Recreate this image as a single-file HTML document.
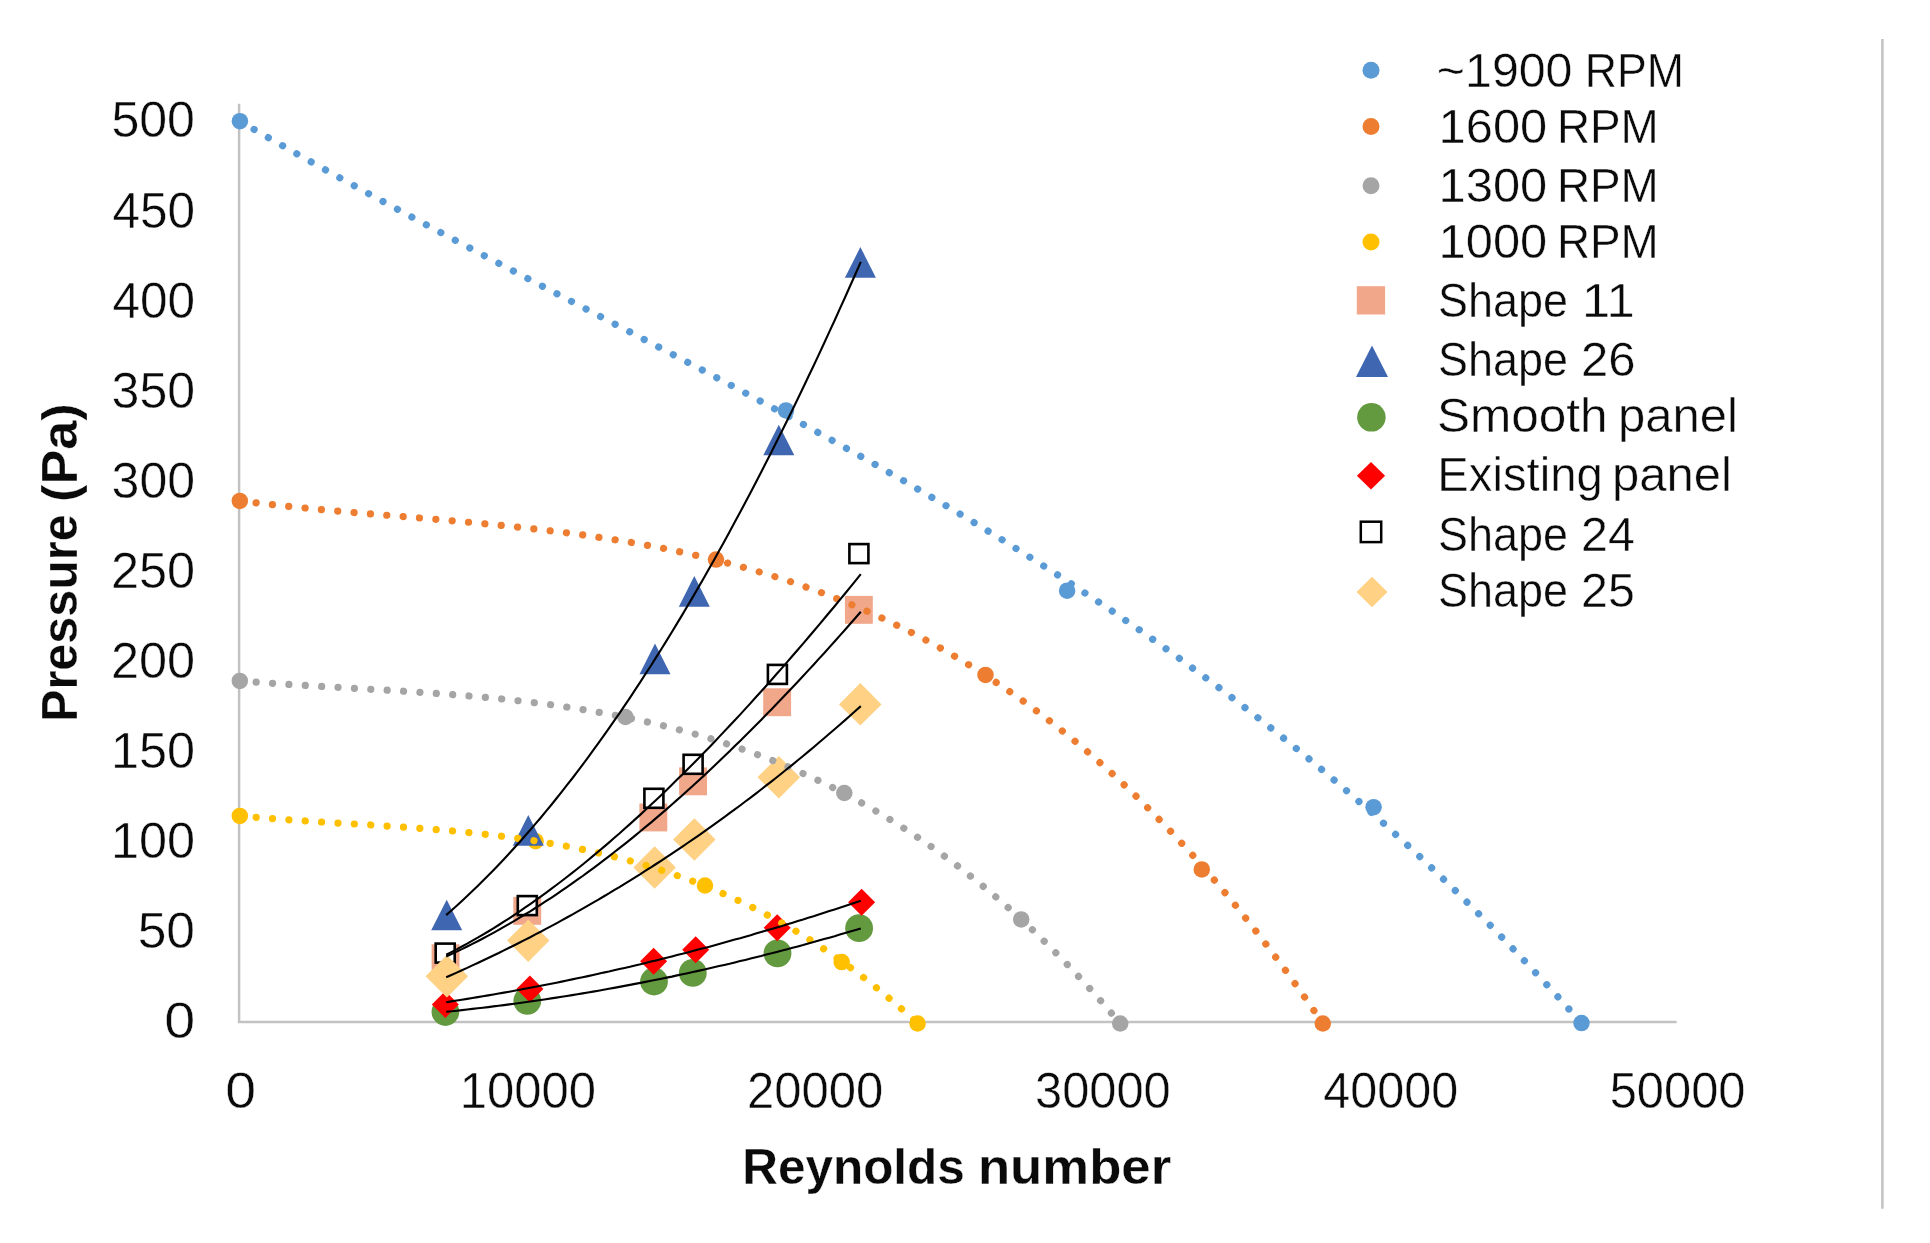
<!DOCTYPE html>
<html lang="en"><head><meta charset="utf-8"><title>Pressure vs Reynolds number</title>
<style>html,body{margin:0;padding:0;background:#fff}body{width:1930px;height:1243px;overflow:hidden}svg{display:block;filter:blur(0.5px)}text{font-family:"Liberation Sans",sans-serif;fill:#0a0a0a}text.t{stroke:#fff;stroke-width:0.45px}text.b{stroke:#fff;stroke-width:0.3px}</style></head><body>
<svg width="1930" height="1243" viewBox="0 0 1930 1243">
<rect width="1930" height="1243" fill="#fff"/>
<line x1="1882.4" y1="39" x2="1882.4" y2="1208.8" stroke="#C2C2C2" stroke-width="2.5"/>
<path d="M239.1,103.8 V1021.9 H1676.7" fill="none" stroke="#C2C2C2" stroke-width="2.5"/>
<text class="t" y="1038.4" font-size="50.0" font-weight="normal"><tspan x="164.2" textLength="30.9" lengthAdjust="spacingAndGlyphs">0</tspan></text>
<text class="t" y="948.3" font-size="50.0" font-weight="normal"><tspan x="137.7" textLength="57.3" lengthAdjust="spacingAndGlyphs">50</tspan></text>
<text class="t" y="858.2" font-size="50.0" font-weight="normal"><tspan x="110.9" textLength="84.1" lengthAdjust="spacingAndGlyphs">100</tspan></text>
<text class="t" y="768.1" font-size="50.0" font-weight="normal"><tspan x="110.9" textLength="84.1" lengthAdjust="spacingAndGlyphs">150</tspan></text>
<text class="t" y="678.0" font-size="50.0" font-weight="normal"><tspan x="110.9" textLength="84.2" lengthAdjust="spacingAndGlyphs">200</tspan></text>
<text class="t" y="587.9" font-size="50.0" font-weight="normal"><tspan x="110.9" textLength="84.2" lengthAdjust="spacingAndGlyphs">250</tspan></text>
<text class="t" y="497.8" font-size="50.0" font-weight="normal"><tspan x="111.6" textLength="83.4" lengthAdjust="spacingAndGlyphs">300</tspan></text>
<text class="t" y="407.7" font-size="50.0" font-weight="normal"><tspan x="111.6" textLength="83.4" lengthAdjust="spacingAndGlyphs">350</tspan></text>
<text class="t" y="317.6" font-size="50.0" font-weight="normal"><tspan x="112.4" textLength="82.6" lengthAdjust="spacingAndGlyphs">400</tspan></text>
<text class="t" y="227.5" font-size="50.0" font-weight="normal"><tspan x="112.4" textLength="82.6" lengthAdjust="spacingAndGlyphs">450</tspan></text>
<text class="t" y="137.4" font-size="50.0" font-weight="normal"><tspan x="111.4" textLength="83.6" lengthAdjust="spacingAndGlyphs">500</tspan></text>
<text class="t" y="1108.1" font-size="50.0" font-weight="normal"><tspan x="225.3" textLength="30.8" lengthAdjust="spacingAndGlyphs">0</tspan></text>
<text class="t" y="1108.1" font-size="50.0" font-weight="normal"><tspan x="459.7" textLength="136.2" lengthAdjust="spacingAndGlyphs">10000</tspan></text>
<text class="t" y="1108.1" font-size="50.0" font-weight="normal"><tspan x="747.0" textLength="136.3" lengthAdjust="spacingAndGlyphs">20000</tspan></text>
<text class="t" y="1108.1" font-size="50.0" font-weight="normal"><tspan x="1035.1" textLength="135.6" lengthAdjust="spacingAndGlyphs">30000</tspan></text>
<text class="t" y="1108.1" font-size="50.0" font-weight="normal"><tspan x="1323.3" textLength="134.8" lengthAdjust="spacingAndGlyphs">40000</tspan></text>
<text class="t" y="1108.1" font-size="50.0" font-weight="normal"><tspan x="1609.7" textLength="135.8" lengthAdjust="spacingAndGlyphs">50000</tspan></text>
<text class="b" y="1183.9" font-size="49.5" font-weight="bold"><tspan x="742.3" textLength="222.5" lengthAdjust="spacingAndGlyphs">Reynolds</tspan> <tspan x="977.9" textLength="193.3" lengthAdjust="spacingAndGlyphs">number</tspan></text>
<g transform="translate(76.9,0) rotate(-90)">
<text class="b" y="0.0" font-size="50.5" font-weight="bold"><tspan x="-721.9" textLength="207.6" lengthAdjust="spacingAndGlyphs">Pressure</tspan> <tspan x="-502.0" textLength="98.7" lengthAdjust="spacingAndGlyphs">(Pa)</tspan></text>
</g>
<circle cx="239.9" cy="121.2" r="8.25" fill="#5B9BD5"/>
<circle cx="786.0" cy="410.4" r="8.25" fill="#5B9BD5"/>
<circle cx="1067.1" cy="590.7" r="8.25" fill="#5B9BD5"/>
<circle cx="1373.6" cy="807.2" r="8.25" fill="#5B9BD5"/>
<circle cx="1581.5" cy="1023.1" r="8.25" fill="#5B9BD5"/>
<circle cx="239.8" cy="500.9" r="8.25" fill="#ED7D31"/>
<circle cx="716.0" cy="559.6" r="8.25" fill="#ED7D31"/>
<circle cx="985.5" cy="674.9" r="8.25" fill="#ED7D31"/>
<circle cx="1201.8" cy="869.4" r="8.25" fill="#ED7D31"/>
<circle cx="1322.8" cy="1023.5" r="8.25" fill="#ED7D31"/>
<circle cx="239.8" cy="680.9" r="8.25" fill="#A5A5A5"/>
<circle cx="625.4" cy="717.0" r="8.25" fill="#A5A5A5"/>
<circle cx="844.3" cy="793.0" r="8.25" fill="#A5A5A5"/>
<circle cx="1021.2" cy="919.4" r="8.25" fill="#A5A5A5"/>
<circle cx="1120.2" cy="1023.5" r="8.25" fill="#A5A5A5"/>
<circle cx="239.8" cy="815.9" r="8.25" fill="#FFC000"/>
<circle cx="535.6" cy="841.2" r="8.25" fill="#FFC000"/>
<circle cx="705.0" cy="885.5" r="8.25" fill="#FFC000"/>
<circle cx="841.7" cy="962.1" r="8.25" fill="#FFC000"/>
<circle cx="917.6" cy="1023.5" r="8.25" fill="#FFC000"/>
<rect x="431.6" y="944.3" width="27.9" height="27.9" fill="#F1A78A"/>
<rect x="513.3" y="896.9" width="27.9" height="27.9" fill="#F1A78A"/>
<rect x="639.4" y="803.5" width="27.9" height="27.9" fill="#F1A78A"/>
<rect x="679.1" y="767.4" width="27.9" height="27.9" fill="#F1A78A"/>
<rect x="763.2" y="688.3" width="27.9" height="27.9" fill="#F1A78A"/>
<rect x="844.9" y="595.9" width="27.9" height="27.9" fill="#F1A78A"/>
<polygon points="446.7,899.7 462.2,930.3 431.2,930.3" fill="#3F66B0"/>
<polygon points="528.3,815.1 543.8,845.7 512.8,845.7" fill="#3F66B0"/>
<polygon points="655.0,643.6 670.5,674.2 639.5,674.2" fill="#3F66B0"/>
<polygon points="694.3,576.1 709.8,606.7 678.8,606.7" fill="#3F66B0"/>
<polygon points="778.8,424.7 794.3,455.3 763.3,455.3" fill="#3F66B0"/>
<polygon points="860.4,247.1 875.9,277.7 844.9,277.7" fill="#3F66B0"/>
<circle cx="445.4" cy="1012.0" r="13.90" fill="#639A3F"/>
<circle cx="527.3" cy="1000.8" r="13.90" fill="#639A3F"/>
<circle cx="654.0" cy="981.5" r="13.90" fill="#639A3F"/>
<circle cx="692.8" cy="972.9" r="13.90" fill="#639A3F"/>
<circle cx="777.5" cy="953.3" r="13.90" fill="#639A3F"/>
<circle cx="859.1" cy="928.2" r="13.90" fill="#639A3F"/>
<polygon points="445.3,990.9 458.8,1004.4 445.3,1017.9 431.8,1004.4" fill="#FF0000"/>
<polygon points="529.9,975.6 543.4,989.1 529.9,1002.6 516.4,989.1" fill="#FF0000"/>
<polygon points="653.6,947.8 667.1,961.3 653.6,974.8 640.1,961.3" fill="#FF0000"/>
<polygon points="695.7,936.2 709.2,949.7 695.7,963.2 682.2,949.7" fill="#FF0000"/>
<polygon points="777.2,914.2 790.7,927.7 777.2,941.2 763.7,927.7" fill="#FF0000"/>
<polygon points="861.6,888.7 875.1,902.2 861.6,915.7 848.1,902.2" fill="#FF0000"/>
<rect x="435.7" y="943.6" width="19.0" height="19.0" fill="#fff" stroke="#000" stroke-width="2.6"/>
<rect x="517.8" y="896.1" width="19.0" height="19.0" fill="#fff" stroke="#000" stroke-width="2.6"/>
<rect x="644.4" y="788.8" width="19.0" height="19.0" fill="#fff" stroke="#000" stroke-width="2.6"/>
<rect x="683.6" y="754.8" width="19.0" height="19.0" fill="#fff" stroke="#000" stroke-width="2.6"/>
<rect x="767.9" y="664.9" width="19.0" height="19.0" fill="#fff" stroke="#000" stroke-width="2.6"/>
<rect x="849.4" y="544.1" width="19.0" height="19.0" fill="#fff" stroke="#000" stroke-width="2.6"/>
<polygon points="446.9,955.0 468.1,976.3 446.9,997.5 425.6,976.3" fill="#FFD184"/>
<polygon points="528.2,919.4 549.5,940.6 528.2,961.9 507.0,940.6" fill="#FFD184"/>
<polygon points="654.6,846.2 675.9,867.5 654.6,888.8 633.4,867.5" fill="#FFD184"/>
<polygon points="694.4,818.2 715.6,839.5 694.4,860.8 673.1,839.5" fill="#FFD184"/>
<polygon points="778.8,756.0 800.0,777.2 778.8,798.5 757.5,777.2" fill="#FFD184"/>
<polygon points="860.3,683.1 881.5,704.4 860.3,725.6 839.0,704.4" fill="#FFD184"/>
<path d="M239.9,121.2 L244.4,123.8 L248.9,126.4 L253.4,129.0 L257.8,131.6 L262.3,134.2 L266.8,136.8 L271.3,139.3 L275.8,141.9 L280.3,144.4 L284.8,147.0 L289.3,149.5 L293.7,152.1 L298.2,154.6 L302.7,157.1 L307.2,159.7 L311.7,162.2 L316.2,164.7 L320.7,167.2 L325.2,169.7 L329.6,172.2 L334.1,174.7 L338.6,177.2 L343.1,179.6 L347.6,182.1 L352.1,184.6 L356.6,187.0 L361.0,189.5 L365.5,192.0 L370.0,194.4 L374.5,196.9 L379.0,199.3 L383.5,201.8 L388.0,204.2 L392.5,206.6 L396.9,209.0 L401.4,211.5 L405.9,213.9 L410.4,216.3 L414.9,218.7 L419.4,221.1 L423.9,223.5 L428.4,225.9 L432.8,228.3 L437.3,230.7 L441.8,233.1 L446.3,235.5 L450.8,237.9 L455.3,240.3 L459.8,242.7 L464.2,245.1 L468.7,247.4 L473.2,249.8 L477.7,252.2 L482.2,254.6 L486.7,256.9 L491.2,259.3 L495.7,261.7 L500.1,264.0 L504.6,266.4 L509.1,268.7 L513.6,271.1 L518.1,273.5 L522.6,275.8 L527.1,278.2 L531.6,280.5 L536.0,282.9 L540.5,285.2 L545.0,287.6 L549.5,289.9 L554.0,292.3 L558.5,294.6 L563.0,297.0 L567.4,299.3 L571.9,301.6 L576.4,304.0 L580.9,306.3 L585.4,308.7 L589.9,311.0 L594.4,313.4 L598.9,315.7 L603.3,318.1 L607.8,320.4 L612.3,322.8 L616.8,325.1 L621.3,327.4 L625.8,329.8 L630.3,332.1 L634.8,334.5 L639.2,336.8 L643.7,339.2 L648.2,341.6 L652.7,343.9 L657.2,346.3 L661.7,348.6 L666.2,351.0 L670.6,353.3 L675.1,355.7 L679.6,358.1 L684.1,360.4 L688.6,362.8 L693.1,365.2 L697.6,367.6 L702.1,369.9 L706.5,372.3 L711.0,374.7 L715.5,377.1 L720.0,379.5 L724.5,381.9 L729.0,384.2 L733.5,386.6 L738.0,389.0 L742.4,391.4 L746.9,393.8 L751.4,396.3 L755.9,398.7 L760.4,401.1 L764.9,403.5 L769.4,405.9 L773.8,408.4 L778.3,410.8 L782.8,413.2 L787.3,415.7 L791.8,418.1 L796.3,420.6 L800.8,423.0 L805.3,425.5 L809.7,428.0 L814.2,430.4 L818.7,432.9 L823.2,435.4 L827.7,437.9 L832.2,440.4 L836.7,442.9 L841.2,445.4 L845.6,447.9 L850.1,450.4 L854.6,452.9 L859.1,455.4 L863.6,458.0 L868.1,460.5 L872.6,463.0 L877.0,465.6 L881.5,468.1 L886.0,470.7 L890.5,473.3 L895.0,475.9 L899.5,478.4 L904.0,481.0 L908.5,483.6 L912.9,486.2 L917.4,488.9 L921.9,491.5 L926.4,494.1 L930.9,496.8 L935.4,499.4 L939.9,502.1 L944.4,504.7 L948.8,507.4 L953.3,510.1 L957.8,512.7 L962.3,515.4 L966.8,518.1 L971.3,520.9 L975.8,523.6 L980.2,526.3 L984.7,529.1 L989.2,531.8 L993.7,534.6 L998.2,537.3 L1002.7,540.1 L1007.2,542.9 L1011.7,545.7 L1016.1,548.5 L1020.6,551.3 L1025.1,554.1 L1029.6,557.0 L1034.1,559.8 L1038.6,562.7 L1043.1,565.6 L1047.6,568.4 L1052.0,571.3 L1056.5,574.2 L1061.0,577.1 L1065.5,580.1 L1070.0,583.0 L1074.5,585.9 L1079.0,588.9 L1083.4,591.9 L1087.9,594.9 L1092.4,597.9 L1096.9,600.9 L1101.4,603.9 L1105.9,606.9 L1110.4,609.9 L1114.9,613.0 L1119.3,616.1 L1123.8,619.2 L1128.3,622.2 L1132.8,625.4 L1137.3,628.5 L1141.8,631.6 L1146.3,634.8 L1150.8,637.9 L1155.2,641.1 L1159.7,644.3 L1164.2,647.5 L1168.7,650.7 L1173.2,653.9 L1177.7,657.2 L1182.2,660.4 L1186.6,663.7 L1191.1,667.0 L1195.6,670.3 L1200.1,673.6 L1204.6,676.9 L1209.1,680.3 L1213.6,683.6 L1218.1,687.0 L1222.5,690.4 L1227.0,693.8 L1231.5,697.2 L1236.0,700.7 L1240.5,704.1 L1245.0,707.6 L1249.5,711.1 L1254.0,714.6 L1258.4,718.1 L1262.9,721.6 L1267.4,725.2 L1271.9,728.8 L1276.4,732.3 L1280.9,736.0 L1285.4,739.6 L1289.8,743.2 L1294.3,746.9 L1298.8,750.5 L1303.3,754.2 L1307.8,757.9 L1312.3,761.7 L1316.8,765.4 L1321.3,769.2 L1325.7,773.0 L1330.2,776.8 L1334.7,780.6 L1339.2,784.4 L1343.7,788.3 L1348.2,792.1 L1352.7,796.0 L1357.2,799.9 L1361.6,803.9 L1366.1,807.8 L1370.6,811.8 L1375.1,815.8 L1379.6,819.8 L1384.1,823.8 L1388.6,827.9 L1393.0,832.0 L1397.5,836.1 L1402.0,840.2 L1406.5,844.3 L1411.0,848.5 L1415.5,852.6 L1420.0,856.8 L1424.5,861.0 L1428.9,865.3 L1433.4,869.5 L1437.9,873.8 L1442.4,878.1 L1446.9,882.5 L1451.4,886.8 L1455.9,891.2 L1460.4,895.6 L1464.8,900.0 L1469.3,904.4 L1473.8,908.9 L1478.3,913.4 L1482.8,917.9 L1487.3,922.4 L1491.8,926.9 L1496.2,931.5 L1500.7,936.1 L1505.2,940.7 L1509.7,945.4 L1514.2,950.1 L1518.7,954.8 L1523.2,959.5 L1527.7,964.2 L1532.1,969.0 L1536.6,973.8 L1541.1,978.6 L1545.6,983.4 L1550.1,988.3 L1554.6,993.2 L1559.1,998.1 L1563.6,1003.1 L1568.0,1008.0 L1572.5,1013.0 L1577.0,1018.0 L1581.5,1023.1" fill="none" stroke="#5B9BD5" stroke-width="7.2" stroke-linecap="round" stroke-dasharray="0.01 16.4"/>
<path d="M239.8,500.9 L243.4,501.3 L247.0,501.8 L250.7,502.2 L254.3,502.6 L257.9,503.1 L261.5,503.5 L265.2,503.9 L268.8,504.3 L272.4,504.7 L276.0,505.1 L279.6,505.5 L283.3,505.8 L286.9,506.2 L290.5,506.6 L294.1,507.0 L297.8,507.3 L301.4,507.7 L305.0,508.0 L308.6,508.4 L312.2,508.7 L315.9,509.1 L319.5,509.4 L323.1,509.8 L326.7,510.1 L330.4,510.4 L334.0,510.7 L337.6,511.1 L341.2,511.4 L344.8,511.7 L348.5,512.0 L352.1,512.3 L355.7,512.7 L359.3,513.0 L363.0,513.3 L366.6,513.6 L370.2,513.9 L373.8,514.2 L377.4,514.5 L381.1,514.8 L384.7,515.1 L388.3,515.4 L391.9,515.7 L395.5,516.0 L399.2,516.3 L402.8,516.6 L406.4,516.9 L410.0,517.2 L413.7,517.5 L417.3,517.8 L420.9,518.1 L424.5,518.4 L428.1,518.7 L431.8,519.0 L435.4,519.3 L439.0,519.6 L442.6,520.0 L446.3,520.3 L449.9,520.6 L453.5,520.9 L457.1,521.2 L460.7,521.6 L464.4,521.9 L468.0,522.2 L471.6,522.5 L475.2,522.9 L478.9,523.2 L482.5,523.5 L486.1,523.9 L489.7,524.2 L493.3,524.6 L497.0,525.0 L500.6,525.3 L504.2,525.7 L507.8,526.0 L511.5,526.4 L515.1,526.8 L518.7,527.2 L522.3,527.6 L525.9,528.0 L529.6,528.4 L533.2,528.8 L536.8,529.2 L540.4,529.6 L544.1,530.0 L547.7,530.5 L551.3,530.9 L554.9,531.3 L558.5,531.8 L562.2,532.2 L565.8,532.7 L569.4,533.2 L573.0,533.7 L576.7,534.1 L580.3,534.6 L583.9,535.1 L587.5,535.6 L591.1,536.2 L594.8,536.7 L598.4,537.2 L602.0,537.8 L605.6,538.3 L609.3,538.9 L612.9,539.4 L616.5,540.0 L620.1,540.6 L623.7,541.2 L627.4,541.8 L631.0,542.4 L634.6,543.1 L638.2,543.7 L641.9,544.3 L645.5,545.0 L649.1,545.7 L652.7,546.3 L656.3,547.0 L660.0,547.7 L663.6,548.4 L667.2,549.2 L670.8,549.9 L674.4,550.6 L678.1,551.4 L681.7,552.2 L685.3,553.0 L688.9,553.8 L692.6,554.6 L696.2,555.4 L699.8,556.2 L703.4,557.1 L707.0,557.9 L710.7,558.8 L714.3,559.7 L717.9,560.6 L721.5,561.5 L725.2,562.4 L728.8,563.4 L732.4,564.3 L736.0,565.3 L739.6,566.3 L743.3,567.3 L746.9,568.3 L750.5,569.3 L754.1,570.3 L757.8,571.4 L761.4,572.5 L765.0,573.6 L768.6,574.7 L772.2,575.8 L775.9,576.9 L779.5,578.1 L783.1,579.2 L786.7,580.4 L790.4,581.6 L794.0,582.9 L797.6,584.1 L801.2,585.3 L804.8,586.6 L808.5,587.9 L812.1,589.2 L815.7,590.5 L819.3,591.9 L823.0,593.2 L826.6,594.6 L830.2,596.0 L833.8,597.4 L837.4,598.9 L841.1,600.3 L844.7,601.8 L848.3,603.3 L851.9,604.8 L855.6,606.3 L859.2,607.9 L862.8,609.4 L866.4,611.0 L870.0,612.6 L873.7,614.2 L877.3,615.9 L880.9,617.6 L884.5,619.3 L888.2,621.0 L891.8,622.7 L895.4,624.5 L899.0,626.2 L902.6,628.0 L906.3,629.8 L909.9,631.7 L913.5,633.5 L917.1,635.4 L920.7,637.3 L924.4,639.3 L928.0,641.2 L931.6,643.2 L935.2,645.2 L938.9,647.2 L942.5,649.2 L946.1,651.3 L949.7,653.4 L953.3,655.5 L957.0,657.6 L960.6,659.8 L964.2,662.0 L967.8,664.2 L971.5,666.4 L975.1,668.7 L978.7,671.0 L982.3,673.3 L985.9,675.6 L989.6,678.0 L993.2,680.4 L996.8,682.8 L1000.4,685.2 L1004.1,687.7 L1007.7,690.1 L1011.3,692.7 L1014.9,695.2 L1018.5,697.8 L1022.2,700.3 L1025.8,703.0 L1029.4,705.6 L1033.0,708.3 L1036.7,711.0 L1040.3,713.7 L1043.9,716.5 L1047.5,719.2 L1051.1,722.1 L1054.8,724.9 L1058.4,727.8 L1062.0,730.7 L1065.6,733.6 L1069.3,736.5 L1072.9,739.5 L1076.5,742.5 L1080.1,745.6 L1083.7,748.6 L1087.4,751.7 L1091.0,754.8 L1094.6,758.0 L1098.2,761.2 L1101.9,764.4 L1105.5,767.7 L1109.1,770.9 L1112.7,774.2 L1116.3,777.6 L1120.0,780.9 L1123.6,784.3 L1127.2,787.8 L1130.8,791.2 L1134.5,794.7 L1138.1,798.2 L1141.7,801.8 L1145.3,805.4 L1148.9,809.0 L1152.6,812.7 L1156.2,816.4 L1159.8,820.1 L1163.4,823.8 L1167.1,827.6 L1170.7,831.4 L1174.3,835.3 L1177.9,839.1 L1181.5,843.1 L1185.2,847.0 L1188.8,851.0 L1192.4,855.0 L1196.0,859.1 L1199.6,863.1 L1203.3,867.3 L1206.9,871.4 L1210.5,875.6 L1214.1,879.8 L1217.8,884.1 L1221.4,888.4 L1225.0,892.7 L1228.6,897.1 L1232.2,901.5 L1235.9,905.9 L1239.5,910.4 L1243.1,914.9 L1246.7,919.4 L1250.4,924.0 L1254.0,928.6 L1257.6,933.3 L1261.2,938.0 L1264.8,942.7 L1268.5,947.5 L1272.1,952.3 L1275.7,957.1 L1279.3,962.0 L1283.0,966.9 L1286.6,971.8 L1290.2,976.8 L1293.8,981.9 L1297.4,986.9 L1301.1,992.0 L1304.7,997.2 L1308.3,1002.4 L1311.9,1007.6 L1315.6,1012.9 L1319.2,1018.2 L1322.8,1023.5" fill="none" stroke="#ED7D31" stroke-width="7.2" stroke-linecap="round" stroke-dasharray="0.01 16.4"/>
<path d="M239.8,680.9 L242.7,681.1 L245.7,681.4 L248.6,681.6 L251.6,681.8 L254.5,682.0 L257.5,682.3 L260.4,682.5 L263.4,682.7 L266.3,682.9 L269.2,683.1 L272.2,683.3 L275.1,683.5 L278.1,683.7 L281.0,683.9 L284.0,684.1 L286.9,684.3 L289.9,684.5 L292.8,684.7 L295.7,684.9 L298.7,685.0 L301.6,685.2 L304.6,685.4 L307.5,685.6 L310.5,685.8 L313.4,685.9 L316.4,686.1 L319.3,686.3 L322.2,686.5 L325.2,686.6 L328.1,686.8 L331.1,687.0 L334.0,687.2 L337.0,687.3 L339.9,687.5 L342.9,687.7 L345.8,687.8 L348.7,688.0 L351.7,688.2 L354.6,688.3 L357.6,688.5 L360.5,688.7 L363.5,688.8 L366.4,689.0 L369.4,689.2 L372.3,689.4 L375.2,689.5 L378.2,689.7 L381.1,689.9 L384.1,690.1 L387.0,690.2 L390.0,690.4 L392.9,690.6 L395.9,690.8 L398.8,691.0 L401.7,691.1 L404.7,691.3 L407.6,691.5 L410.6,691.7 L413.5,691.9 L416.5,692.1 L419.4,692.3 L422.4,692.5 L425.3,692.7 L428.2,692.9 L431.2,693.1 L434.1,693.3 L437.1,693.5 L440.0,693.7 L443.0,693.9 L445.9,694.2 L448.9,694.4 L451.8,694.6 L454.7,694.8 L457.7,695.1 L460.6,695.3 L463.6,695.5 L466.5,695.8 L469.5,696.0 L472.4,696.3 L475.4,696.5 L478.3,696.8 L481.2,697.1 L484.2,697.3 L487.1,697.6 L490.1,697.9 L493.0,698.2 L496.0,698.5 L498.9,698.7 L501.9,699.0 L504.8,699.3 L507.7,699.7 L510.7,700.0 L513.6,700.3 L516.6,700.6 L519.5,700.9 L522.5,701.3 L525.4,701.6 L528.4,702.0 L531.3,702.3 L534.2,702.7 L537.2,703.0 L540.1,703.4 L543.1,703.8 L546.0,704.2 L549.0,704.5 L551.9,704.9 L554.9,705.3 L557.8,705.8 L560.7,706.2 L563.7,706.6 L566.6,707.0 L569.6,707.5 L572.5,707.9 L575.5,708.4 L578.4,708.8 L581.4,709.3 L584.3,709.8 L587.2,710.2 L590.2,710.7 L593.1,711.2 L596.1,711.7 L599.0,712.3 L602.0,712.8 L604.9,713.3 L607.9,713.9 L610.8,714.4 L613.7,715.0 L616.7,715.5 L619.6,716.1 L622.6,716.7 L625.5,717.3 L628.5,717.9 L631.4,718.5 L634.4,719.1 L637.3,719.7 L640.2,720.4 L643.2,721.0 L646.1,721.7 L649.1,722.4 L652.0,723.0 L655.0,723.7 L657.9,724.4 L660.9,725.1 L663.8,725.8 L666.7,726.6 L669.7,727.3 L672.6,728.1 L675.6,728.8 L678.5,729.6 L681.5,730.4 L684.4,731.2 L687.4,732.0 L690.3,732.8 L693.3,733.6 L696.2,734.5 L699.1,735.3 L702.1,736.2 L705.0,737.0 L708.0,737.9 L710.9,738.8 L713.9,739.7 L716.8,740.7 L719.8,741.6 L722.7,742.5 L725.6,743.5 L728.6,744.5 L731.5,745.4 L734.5,746.4 L737.4,747.5 L740.4,748.5 L743.3,749.5 L746.3,750.6 L749.2,751.6 L752.1,752.7 L755.1,753.8 L758.0,754.9 L761.0,756.0 L763.9,757.1 L766.9,758.3 L769.8,759.4 L772.8,760.6 L775.7,761.8 L778.6,763.0 L781.6,764.2 L784.5,765.4 L787.5,766.6 L790.4,767.9 L793.4,769.2 L796.3,770.4 L799.3,771.7 L802.2,773.1 L805.1,774.4 L808.1,775.7 L811.0,777.1 L814.0,778.5 L816.9,779.8 L819.9,781.3 L822.8,782.7 L825.8,784.1 L828.7,785.6 L831.6,787.0 L834.6,788.5 L837.5,790.0 L840.5,791.5 L843.4,793.1 L846.4,794.6 L849.3,796.2 L852.3,797.7 L855.2,799.3 L858.1,801.0 L861.1,802.6 L864.0,804.2 L867.0,805.9 L869.9,807.6 L872.9,809.3 L875.8,811.0 L878.8,812.7 L881.7,814.5 L884.6,816.3 L887.6,818.0 L890.5,819.9 L893.5,821.7 L896.4,823.5 L899.4,825.4 L902.3,827.3 L905.3,829.1 L908.2,831.1 L911.1,833.0 L914.1,834.9 L917.0,836.9 L920.0,838.9 L922.9,840.9 L925.9,842.9 L928.8,845.0 L931.8,847.0 L934.7,849.1 L937.6,851.2 L940.6,853.4 L943.5,855.5 L946.5,857.7 L949.4,859.8 L952.4,862.0 L955.3,864.3 L958.3,866.5 L961.2,868.8 L964.1,871.0 L967.1,873.3 L970.0,875.7 L973.0,878.0 L975.9,880.4 L978.9,882.8 L981.8,885.2 L984.8,887.6 L987.7,890.0 L990.6,892.5 L993.6,895.0 L996.5,897.5 L999.5,900.0 L1002.4,902.6 L1005.4,905.2 L1008.3,907.8 L1011.3,910.4 L1014.2,913.0 L1017.1,915.7 L1020.1,918.4 L1023.0,921.1 L1026.0,923.8 L1028.9,926.6 L1031.9,929.3 L1034.8,932.1 L1037.8,935.0 L1040.7,937.8 L1043.6,940.7 L1046.6,943.5 L1049.5,946.5 L1052.5,949.4 L1055.4,952.4 L1058.4,955.3 L1061.3,958.3 L1064.3,961.4 L1067.2,964.4 L1070.1,967.5 L1073.1,970.6 L1076.0,973.7 L1079.0,976.9 L1081.9,980.0 L1084.9,983.2 L1087.8,986.4 L1090.8,989.7 L1093.7,993.0 L1096.6,996.3 L1099.6,999.6 L1102.5,1002.9 L1105.5,1006.3 L1108.4,1009.7 L1111.4,1013.1 L1114.3,1016.5 L1117.3,1020.0 L1120.2,1023.5" fill="none" stroke="#A5A5A5" stroke-width="7.2" stroke-linecap="round" stroke-dasharray="0.01 16.4"/>
<path d="M239.8,815.9 L242.1,816.1 L244.3,816.3 L246.6,816.5 L248.9,816.7 L251.1,816.9 L253.4,817.1 L255.7,817.3 L257.9,817.5 L260.2,817.7 L262.5,817.9 L264.7,818.0 L267.0,818.2 L269.3,818.4 L271.5,818.6 L273.8,818.7 L276.1,818.9 L278.3,819.1 L280.6,819.2 L282.9,819.4 L285.1,819.6 L287.4,819.7 L289.7,819.9 L291.9,820.0 L294.2,820.2 L296.5,820.4 L298.7,820.5 L301.0,820.7 L303.3,820.8 L305.5,821.0 L307.8,821.1 L310.1,821.3 L312.3,821.4 L314.6,821.6 L316.9,821.7 L319.1,821.8 L321.4,822.0 L323.7,822.1 L325.9,822.3 L328.2,822.4 L330.5,822.5 L332.7,822.7 L335.0,822.8 L337.3,823.0 L339.5,823.1 L341.8,823.2 L344.1,823.4 L346.3,823.5 L348.6,823.7 L350.9,823.8 L353.1,823.9 L355.4,824.1 L357.7,824.2 L359.9,824.3 L362.2,824.5 L364.5,824.6 L366.7,824.8 L369.0,824.9 L371.3,825.0 L373.5,825.2 L375.8,825.3 L378.1,825.5 L380.3,825.6 L382.6,825.8 L384.9,825.9 L387.1,826.1 L389.4,826.2 L391.7,826.4 L393.9,826.5 L396.2,826.7 L398.5,826.8 L400.7,827.0 L403.0,827.1 L405.3,827.3 L407.5,827.4 L409.8,827.6 L412.1,827.8 L414.4,827.9 L416.6,828.1 L418.9,828.3 L421.2,828.4 L423.4,828.6 L425.7,828.8 L428.0,828.9 L430.2,829.1 L432.5,829.3 L434.8,829.5 L437.0,829.7 L439.3,829.9 L441.6,830.0 L443.8,830.2 L446.1,830.4 L448.4,830.6 L450.6,830.8 L452.9,831.0 L455.2,831.2 L457.4,831.5 L459.7,831.7 L462.0,831.9 L464.2,832.1 L466.5,832.3 L468.8,832.5 L471.0,832.8 L473.3,833.0 L475.6,833.2 L477.8,833.5 L480.1,833.7 L482.4,834.0 L484.6,834.2 L486.9,834.5 L489.2,834.7 L491.4,835.0 L493.7,835.3 L496.0,835.5 L498.2,835.8 L500.5,836.1 L502.8,836.4 L505.0,836.6 L507.3,836.9 L509.6,837.2 L511.8,837.5 L514.1,837.8 L516.4,838.1 L518.6,838.5 L520.9,838.8 L523.2,839.1 L525.4,839.4 L527.7,839.7 L530.0,840.1 L532.2,840.4 L534.5,840.8 L536.8,841.1 L539.0,841.5 L541.3,841.8 L543.6,842.2 L545.8,842.6 L548.1,843.0 L550.4,843.4 L552.6,843.7 L554.9,844.1 L557.2,844.5 L559.4,844.9 L561.7,845.4 L564.0,845.8 L566.2,846.2 L568.5,846.6 L570.8,847.1 L573.0,847.5 L575.3,848.0 L577.6,848.4 L579.8,848.9 L582.1,849.3 L584.4,849.8 L586.6,850.3 L588.9,850.8 L591.2,851.3 L593.4,851.8 L595.7,852.3 L598.0,852.8 L600.2,853.3 L602.5,853.9 L604.8,854.4 L607.0,854.9 L609.3,855.5 L611.6,856.0 L613.8,856.6 L616.1,857.2 L618.4,857.8 L620.6,858.3 L622.9,858.9 L625.2,859.5 L627.4,860.1 L629.7,860.8 L632.0,861.4 L634.2,862.0 L636.5,862.7 L638.8,863.3 L641.0,864.0 L643.3,864.6 L645.6,865.3 L647.8,866.0 L650.1,866.7 L652.4,867.4 L654.6,868.1 L656.9,868.8 L659.2,869.5 L661.4,870.2 L663.7,871.0 L666.0,871.7 L668.2,872.5 L670.5,873.2 L672.8,874.0 L675.0,874.8 L677.3,875.6 L679.6,876.4 L681.8,877.2 L684.1,878.0 L686.4,878.9 L688.6,879.7 L690.9,880.5 L693.2,881.4 L695.4,882.3 L697.7,883.1 L700.0,884.0 L702.2,884.9 L704.5,885.8 L706.8,886.8 L709.0,887.7 L711.3,888.6 L713.6,889.6 L715.8,890.5 L718.1,891.5 L720.4,892.5 L722.6,893.4 L724.9,894.4 L727.2,895.4 L729.4,896.5 L731.7,897.5 L734.0,898.5 L736.2,899.6 L738.5,900.6 L740.8,901.7 L743.0,902.8 L745.3,903.9 L747.6,905.0 L749.9,906.1 L752.1,907.2 L754.4,908.4 L756.7,909.5 L758.9,910.7 L761.2,911.8 L763.5,913.0 L765.7,914.2 L768.0,915.4 L770.3,916.6 L772.5,917.9 L774.8,919.1 L777.1,920.3 L779.3,921.6 L781.6,922.9 L783.9,924.2 L786.1,925.5 L788.4,926.8 L790.7,928.1 L792.9,929.4 L795.2,930.8 L797.5,932.1 L799.7,933.5 L802.0,934.9 L804.3,936.3 L806.5,937.7 L808.8,939.1 L811.1,940.6 L813.3,942.0 L815.6,943.5 L817.9,945.0 L820.1,946.4 L822.4,947.9 L824.7,949.5 L826.9,951.0 L829.2,952.5 L831.5,954.1 L833.7,955.6 L836.0,957.2 L838.3,958.8 L840.5,960.4 L842.8,962.0 L845.1,963.7 L847.3,965.3 L849.6,967.0 L851.9,968.6 L854.1,970.3 L856.4,972.0 L858.7,973.8 L860.9,975.5 L863.2,977.2 L865.5,979.0 L867.7,980.8 L870.0,982.5 L872.3,984.3 L874.5,986.2 L876.8,988.0 L879.1,989.8 L881.3,991.7 L883.6,993.6 L885.9,995.5 L888.1,997.4 L890.4,999.3 L892.7,1001.2 L894.9,1003.2 L897.2,1005.1 L899.5,1007.1 L901.7,1009.1 L904.0,1011.1 L906.3,1013.1 L908.5,1015.2 L910.8,1017.2 L913.1,1019.3 L915.3,1021.4 L917.6,1023.5" fill="none" stroke="#FFC000" stroke-width="7.2" stroke-linecap="round" stroke-dasharray="0.01 16.4"/>
<path d="M446.2,956.5 L451.4,954.1 L456.7,951.6 L461.9,949.1 L467.2,946.5 L472.4,943.9 L477.7,941.2 L482.9,938.5 L488.2,935.7 L493.4,932.8 L498.7,929.9 L503.9,926.9 L509.2,923.9 L514.4,920.8 L519.7,917.7 L524.9,914.5 L530.2,911.3 L535.4,908.0 L540.7,904.6 L545.9,901.2 L551.2,897.8 L556.4,894.3 L561.7,890.7 L566.9,887.1 L572.2,883.4 L577.4,879.7 L582.7,876.0 L587.9,872.1 L593.1,868.3 L598.4,864.4 L603.6,860.4 L608.9,856.4 L614.1,852.3 L619.4,848.2 L624.6,844.1 L629.9,839.9 L635.1,835.6 L640.4,831.3 L645.6,826.9 L650.9,822.6 L656.1,818.1 L661.4,813.6 L666.6,809.1 L671.9,804.5 L677.1,799.9 L682.4,795.2 L687.6,790.5 L692.9,785.7 L698.1,780.9 L703.4,776.1 L708.6,771.2 L713.9,766.3 L719.1,761.3 L724.3,756.3 L729.6,751.2 L734.8,746.1 L740.1,740.9 L745.3,735.8 L750.6,730.5 L755.8,725.3 L761.1,719.9 L766.3,714.6 L771.6,709.2 L776.8,703.8 L782.1,698.3 L787.3,692.8 L792.6,687.2 L797.8,681.7 L803.1,676.0 L808.3,670.4 L813.6,664.7 L818.8,658.9 L824.1,653.2 L829.3,647.4 L834.6,641.5 L839.8,635.6 L845.1,629.7 L850.3,623.8 L855.6,617.8 L860.8,611.7" fill="none" stroke="#000" stroke-width="2.1"/>
<path d="M446.2,915.1 L451.4,910.5 L456.7,905.8 L461.9,901.0 L467.2,896.1 L472.4,891.1 L477.7,886.0 L482.9,880.8 L488.2,875.6 L493.4,870.2 L498.7,864.7 L503.9,859.2 L509.2,853.5 L514.4,847.8 L519.7,842.0 L524.9,836.0 L530.2,830.0 L535.4,823.9 L540.7,817.7 L545.9,811.4 L551.2,805.0 L556.4,798.5 L561.7,791.9 L566.9,785.2 L572.2,778.5 L577.4,771.6 L582.7,764.6 L587.9,757.6 L593.1,750.4 L598.4,743.2 L603.6,735.9 L608.9,728.4 L614.1,720.9 L619.4,713.3 L624.6,705.6 L629.9,697.8 L635.1,689.9 L640.4,681.9 L645.6,673.8 L650.9,665.7 L656.1,657.4 L661.4,649.0 L666.6,640.6 L671.9,632.0 L677.1,623.4 L682.4,614.6 L687.6,605.8 L692.9,596.9 L698.1,587.9 L703.4,578.7 L708.6,569.5 L713.9,560.2 L719.1,550.8 L724.3,541.4 L729.6,531.8 L734.8,522.1 L740.1,512.3 L745.3,502.5 L750.6,492.5 L755.8,482.5 L761.1,472.3 L766.3,462.1 L771.6,451.8 L776.8,441.3 L782.1,430.8 L787.3,420.2 L792.6,409.5 L797.8,398.7 L803.1,387.8 L808.3,376.8 L813.6,365.7 L818.8,354.6 L824.1,343.3 L829.3,331.9 L834.6,320.5 L839.8,308.9 L845.1,297.3 L850.3,285.5 L855.6,273.7 L860.8,261.8" fill="none" stroke="#000" stroke-width="2.1"/>
<path d="M446.2,1011.8 L451.4,1011.3 L456.7,1010.7 L461.9,1010.1 L467.2,1009.5 L472.4,1008.9 L477.7,1008.3 L482.9,1007.7 L488.2,1007.1 L493.4,1006.4 L498.7,1005.8 L503.9,1005.1 L509.2,1004.4 L514.4,1003.7 L519.7,1003.0 L524.9,1002.3 L530.2,1001.5 L535.4,1000.8 L540.7,1000.0 L545.9,999.2 L551.2,998.4 L556.4,997.6 L561.7,996.8 L566.9,996.0 L572.2,995.1 L577.4,994.2 L582.7,993.4 L587.9,992.5 L593.1,991.6 L598.4,990.7 L603.6,989.8 L608.9,988.8 L614.1,987.9 L619.4,986.9 L624.6,985.9 L629.9,984.9 L635.1,983.9 L640.4,982.9 L645.6,981.9 L650.9,980.8 L656.1,979.8 L661.4,978.7 L666.6,977.6 L671.9,976.6 L677.1,975.4 L682.4,974.3 L687.6,973.2 L692.9,972.0 L698.1,970.9 L703.4,969.7 L708.6,968.5 L713.9,967.3 L719.1,966.1 L724.3,964.9 L729.6,963.7 L734.8,962.4 L740.1,961.1 L745.3,959.9 L750.6,958.6 L755.8,957.3 L761.1,956.0 L766.3,954.6 L771.6,953.3 L776.8,951.9 L782.1,950.6 L787.3,949.2 L792.6,947.8 L797.8,946.4 L803.1,945.0 L808.3,943.5 L813.6,942.1 L818.8,940.6 L824.1,939.1 L829.3,937.7 L834.6,936.2 L839.8,934.6 L845.1,933.1 L850.3,931.6 L855.6,930.0 L860.8,928.5" fill="none" stroke="#000" stroke-width="2.1"/>
<path d="M446.2,1002.2 L451.4,1001.4 L456.7,1000.5 L461.9,999.7 L467.2,998.9 L472.4,998.0 L477.7,997.1 L482.9,996.3 L488.2,995.4 L493.4,994.5 L498.7,993.5 L503.9,992.6 L509.2,991.7 L514.4,990.7 L519.7,989.8 L524.9,988.8 L530.2,987.8 L535.4,986.8 L540.7,985.8 L545.9,984.7 L551.2,983.7 L556.4,982.7 L561.7,981.6 L566.9,980.5 L572.2,979.4 L577.4,978.3 L582.7,977.2 L587.9,976.1 L593.1,975.0 L598.4,973.8 L603.6,972.6 L608.9,971.5 L614.1,970.3 L619.4,969.1 L624.6,967.9 L629.9,966.7 L635.1,965.4 L640.4,964.2 L645.6,962.9 L650.9,961.6 L656.1,960.4 L661.4,959.1 L666.6,957.8 L671.9,956.4 L677.1,955.1 L682.4,953.8 L687.6,952.4 L692.9,951.0 L698.1,949.6 L703.4,948.3 L708.6,946.9 L713.9,945.4 L719.1,944.0 L724.3,942.6 L729.6,941.1 L734.8,939.6 L740.1,938.2 L745.3,936.7 L750.6,935.2 L755.8,933.6 L761.1,932.1 L766.3,930.6 L771.6,929.0 L776.8,927.5 L782.1,925.9 L787.3,924.3 L792.6,922.7 L797.8,921.1 L803.1,919.5 L808.3,917.8 L813.6,916.2 L818.8,914.5 L824.1,912.8 L829.3,911.1 L834.6,909.4 L839.8,907.7 L845.1,906.0 L850.3,904.3 L855.6,902.5 L860.8,900.8" fill="none" stroke="#000" stroke-width="2.1"/>
<path d="M446.2,954.8 L451.4,952.1 L456.7,949.4 L461.9,946.5 L467.2,943.7 L472.4,940.7 L477.7,937.7 L482.9,934.6 L488.2,931.5 L493.4,928.3 L498.7,925.0 L503.9,921.7 L509.2,918.3 L514.4,914.8 L519.7,911.3 L524.9,907.7 L530.2,904.1 L535.4,900.4 L540.7,896.6 L545.9,892.8 L551.2,888.9 L556.4,885.0 L561.7,881.0 L566.9,877.0 L572.2,872.9 L577.4,868.7 L582.7,864.5 L587.9,860.2 L593.1,855.9 L598.4,851.5 L603.6,847.1 L608.9,842.6 L614.1,838.0 L619.4,833.5 L624.6,828.8 L629.9,824.1 L635.1,819.4 L640.4,814.6 L645.6,809.7 L650.9,804.8 L656.1,799.9 L661.4,794.9 L666.6,789.9 L671.9,784.8 L677.1,779.6 L682.4,774.5 L687.6,769.2 L692.9,764.0 L698.1,758.7 L703.4,753.3 L708.6,747.9 L713.9,742.4 L719.1,736.9 L724.3,731.4 L729.6,725.8 L734.8,720.2 L740.1,714.6 L745.3,708.9 L750.6,703.1 L755.8,697.3 L761.1,691.5 L766.3,685.7 L771.6,679.8 L776.8,673.8 L782.1,667.9 L787.3,661.9 L792.6,655.8 L797.8,649.7 L803.1,643.6 L808.3,637.5 L813.6,631.3 L818.8,625.1 L824.1,618.8 L829.3,612.5 L834.6,606.2 L839.8,599.9 L845.1,593.5 L850.3,587.1 L855.6,580.6 L860.8,574.2" fill="none" stroke="#000" stroke-width="2.1"/>
<path d="M446.2,977.3 L451.4,975.0 L456.7,972.6 L461.9,970.3 L467.2,967.9 L472.4,965.4 L477.7,963.0 L482.9,960.5 L488.2,958.0 L493.4,955.5 L498.7,953.0 L503.9,950.4 L509.2,947.8 L514.4,945.2 L519.7,942.5 L524.9,939.9 L530.2,937.2 L535.4,934.4 L540.7,931.7 L545.9,928.9 L551.2,926.1 L556.4,923.3 L561.7,920.4 L566.9,917.5 L572.2,914.6 L577.4,911.7 L582.7,908.7 L587.9,905.7 L593.1,902.6 L598.4,899.6 L603.6,896.5 L608.9,893.4 L614.1,890.2 L619.4,887.1 L624.6,883.8 L629.9,880.6 L635.1,877.3 L640.4,874.1 L645.6,870.7 L650.9,867.4 L656.1,864.0 L661.4,860.6 L666.6,857.1 L671.9,853.6 L677.1,850.1 L682.4,846.6 L687.6,843.0 L692.9,839.4 L698.1,835.8 L703.4,832.1 L708.6,828.4 L713.9,824.6 L719.1,820.9 L724.3,817.1 L729.6,813.2 L734.8,809.4 L740.1,805.5 L745.3,801.5 L750.6,797.6 L755.8,793.6 L761.1,789.5 L766.3,785.4 L771.6,781.3 L776.8,777.2 L782.1,773.0 L787.3,768.8 L792.6,764.6 L797.8,760.3 L803.1,756.0 L808.3,751.6 L813.6,747.2 L818.8,742.8 L824.1,738.3 L829.3,733.8 L834.6,729.3 L839.8,724.7 L845.1,720.1 L850.3,715.5 L855.6,710.8 L860.8,706.1" fill="none" stroke="#000" stroke-width="2.1"/>
<text class="t" y="86.7" font-size="48.5" font-weight="normal"><tspan x="1436.8" textLength="135.7" lengthAdjust="spacingAndGlyphs">~1900</tspan> <tspan x="1584.7" textLength="99.3" lengthAdjust="spacingAndGlyphs">RPM</tspan></text>
<text class="t" y="143.0" font-size="48.5" font-weight="normal"><tspan x="1438.6" textLength="108.6" lengthAdjust="spacingAndGlyphs">1600</tspan> <tspan x="1556.9" textLength="101.9" lengthAdjust="spacingAndGlyphs">RPM</tspan></text>
<text class="t" y="201.9" font-size="48.5" font-weight="normal"><tspan x="1438.6" textLength="108.6" lengthAdjust="spacingAndGlyphs">1300</tspan> <tspan x="1556.9" textLength="101.9" lengthAdjust="spacingAndGlyphs">RPM</tspan></text>
<text class="t" y="258.1" font-size="48.5" font-weight="normal"><tspan x="1438.6" textLength="108.6" lengthAdjust="spacingAndGlyphs">1000</tspan> <tspan x="1556.9" textLength="101.9" lengthAdjust="spacingAndGlyphs">RPM</tspan></text>
<text class="t" y="317.2" font-size="48.5" font-weight="normal"><tspan x="1437.9" textLength="130.0" lengthAdjust="spacingAndGlyphs">Shape</tspan> <tspan x="1582.1" textLength="52.6" lengthAdjust="spacingAndGlyphs">11</tspan></text>
<text class="t" y="376.0" font-size="48.5" font-weight="normal"><tspan x="1437.9" textLength="130.0" lengthAdjust="spacingAndGlyphs">Shape</tspan> <tspan x="1581.0" textLength="54.6" lengthAdjust="spacingAndGlyphs">26</tspan></text>
<text class="t" y="432.2" font-size="48.5" font-weight="normal"><tspan x="1436.9" textLength="170.8" lengthAdjust="spacingAndGlyphs">Smooth</tspan> <tspan x="1618.0" textLength="120.0" lengthAdjust="spacingAndGlyphs">panel</tspan></text>
<text class="t" y="491.4" font-size="48.5" font-weight="normal"><tspan x="1437.3" textLength="165.4" lengthAdjust="spacingAndGlyphs">Existing</tspan> <tspan x="1612.0" textLength="120.0" lengthAdjust="spacingAndGlyphs">panel</tspan></text>
<text class="t" y="550.5" font-size="48.5" font-weight="normal"><tspan x="1437.9" textLength="130.0" lengthAdjust="spacingAndGlyphs">Shape</tspan> <tspan x="1581.1" textLength="53.8" lengthAdjust="spacingAndGlyphs">24</tspan></text>
<text class="t" y="607.2" font-size="48.5" font-weight="normal"><tspan x="1437.9" textLength="130.0" lengthAdjust="spacingAndGlyphs">Shape</tspan> <tspan x="1581.1" textLength="53.8" lengthAdjust="spacingAndGlyphs">25</tspan></text>
<circle cx="1371.0" cy="70.3" r="8.50" fill="#5B9BD5"/>
<circle cx="1371.0" cy="126.5" r="8.50" fill="#ED7D31"/>
<circle cx="1371.0" cy="185.7" r="8.50" fill="#A5A5A5"/>
<circle cx="1371.0" cy="241.9" r="8.50" fill="#FFC000"/>
<rect x="1356.8" y="286.2" width="28.3" height="28.3" fill="#F1A78A"/>
<polygon points="1372.0,345.5 1388.0,376.9 1356.0,376.9" fill="#3F66B0"/>
<circle cx="1371.4" cy="417.3" r="14.25" fill="#639A3F"/>
<polygon points="1371.0,461.9 1385.1,475.7 1371.0,489.4 1356.9,475.7" fill="#FF0000"/>
<rect x="1360.8" y="521.7" width="20.4" height="20.4" fill="#fff" stroke="#000" stroke-width="2.5"/>
<polygon points="1372.0,576.8 1387.5,592.0 1372.0,607.2 1356.5,592.0" fill="#FFD184"/>
</svg></body></html>
